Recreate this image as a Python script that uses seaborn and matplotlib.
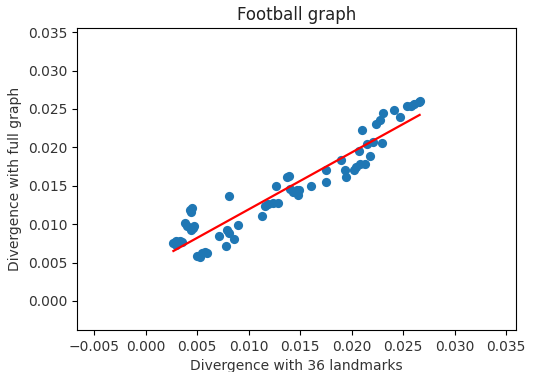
import matplotlib
matplotlib.use("Agg")
from matplotlib import pyplot as plt
import seaborn as sns
import pandas as pd

# Divergence values
landmarks_div = [
    0.0027, 0.0030, 0.0033, 0.0035, 0.0030,
    0.0038, 0.0040, 0.0043, 0.0044, 0.0045,
    0.0044, 0.0047, 0.0046,
    0.0050, 0.0053, 0.0055, 0.0058, 0.0060,
    0.0071, 0.0081, 0.0079, 0.0078, 0.0081, 0.0086, 0.0090,
    0.0113, 0.0116, 0.0119, 0.0124, 0.0129, 0.0127,
    0.0137, 0.0139, 0.0140, 0.0143, 0.0147, 0.0148, 0.0149,
    0.0161, 0.0175, 0.0175,
    0.0190, 0.0194, 0.0195, 0.0202, 0.0204,
    0.0207, 0.0208, 0.0210, 0.0213, 0.0215, 0.0218,
    0.0221, 0.0224, 0.0228, 0.0230, 0.0229,
    0.0241, 0.0247,
    0.0254, 0.0258, 0.0261, 0.0265, 0.0266
]

full_graph_div = [
    0.0075, 0.0078, 0.0078, 0.0077, 0.0073,
    0.0102, 0.0097, 0.0119, 0.0116, 0.0121,
    0.0092, 0.0097, 0.0095,
    0.0059, 0.0057, 0.0062, 0.0064, 0.0063,
    0.0085, 0.0137, 0.0093, 0.0072, 0.0088, 0.0081, 0.0099,
    0.0110, 0.0123, 0.0126, 0.0127, 0.0127, 0.0150,
    0.0161, 0.0163, 0.0146, 0.0142, 0.0144, 0.0138, 0.0145,
    0.0150, 0.0170, 0.0155,
    0.0183, 0.0170, 0.0162, 0.0170, 0.0175,
    0.0195, 0.0178, 0.0222, 0.0178, 0.0204, 0.0189,
    0.0207, 0.0230, 0.0236, 0.0245, 0.0206,
    0.0249, 0.0240,
    0.0254, 0.0254, 0.0257, 0.0259, 0.0260
]

x_ticks = [-0.005, 0.000, 0.005, 0.010, 0.015, 0.020, 0.025, 0.030, 0.035]
y_ticks = [0.000, 0.005, 0.010, 0.015, 0.020, 0.025, 0.030, 0.035]

df = pd.DataFrame({
    "landmarks": landmarks_div,
    "full": full_graph_div
})

fig = plt.figure(figsize=(5.53, 3.72), dpi=100)
ax = fig.add_axes([0.139, 0.113, 0.794, 0.812])

sns.regplot(
    data=df,
    x="landmarks",
    y="full",
    ci=None,
    color="#1f77b4",
    scatter_kws={"s": 44, "linewidths": 0, "alpha": 1},
    line_kws={"color": "red", "linewidth": 1.6},
    ax=ax
)

ax.set_xlim(-0.00667, 0.03595)
ax.set_ylim(-0.00378, 0.03555)
ax.set_xticks(x_ticks)
ax.set_yticks(y_ticks)
ax.set_xticklabels([f"{t:.3f}".replace("-", "\u2212") for t in x_ticks])
ax.set_yticklabels([f"{t:.3f}" for t in y_ticks])
ax.tick_params(labelcolor="#333333")

ax.set_title("Football graph", color="#222222")
ax.set_xlabel("Divergence with 36 landmarks", color="#333333")
ax.set_ylabel("Divergence with full graph", color="#333333")

fig.savefig("out.png", dpi=100)
